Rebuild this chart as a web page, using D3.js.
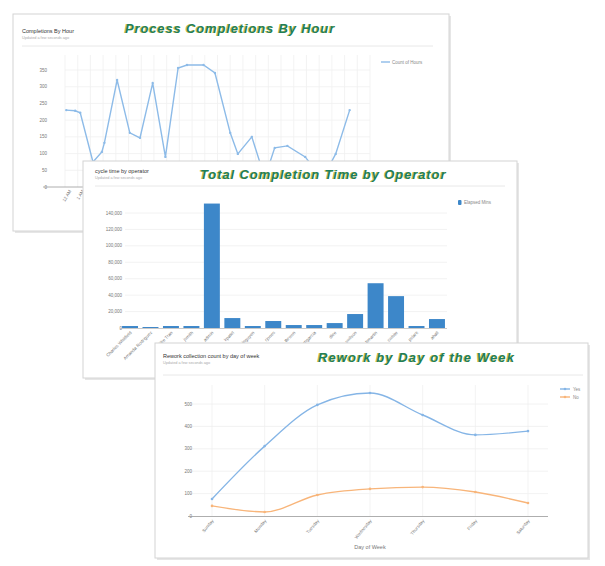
<!DOCTYPE html>
<html>
<head>
<meta charset="utf-8">
<script src="https://cdn.jsdelivr.net/npm/d3@7"></script>
<style>
  html, body { margin: 0; padding: 0; background: #ffffff; }
  svg { display: block; font-family: "Liberation Sans", Arial, sans-serif; }
</style>
</head>
<body>
<svg id="chart" width="605" height="566"></svg>
<script>
// ---------- Data ----------
// Panel 1: Process Completions By Hour (hour of day, count)
const hourX = [0.1, 0.8, 1.2, 2.2, 2.9, 3.1, 4.1, 5.1, 5.9, 6.9, 7.9, 8.9, 9.6, 10.9, 11.8, 13.0, 13.6, 14.7, 15.4, 15.8, 16.5, 17.5, 18.9, 19.4, 20.2, 21.3, 22.4];
const hourCounts = [230, 228, 222, 75, 105, 132, 320, 162, 147, 311, 90, 356, 365, 365, 341, 162, 99, 150, 66, 36, 117, 123, 90, 66, 21, 99, 230];
const hourTicks = [0, 50, 100, 150, 200, 250, 300, 350];
const hourLabels = ["12 AM","1 AM","2 AM","3 AM","4 AM","5 AM","6 AM","7 AM","8 AM","9 AM","10 AM","11 AM","12 PM","1 PM","2 PM","3 PM","4 PM","5 PM","6 PM","7 PM","8 PM","9 PM","10 PM","11 PM"];

// Panel 2: Total Completion Time by Operator
const operators = ["Charles Whitfield", "Amanda Rodriguez", "Mike Tran", "jsmith", "admin", "kpatel", "lnguyen", "rjones", "tbrown", "mgarcia", "dlee", "swilson", "bmartin", "cwhite", "pclark", "ahall"];
const operatorTimes = [2400, 1200, 2400, 2400, 151500, 12100, 2400, 8500, 3600, 3600, 6000, 17000, 54500, 38800, 2400, 10900];
const operatorTicks = [0, 20000, 40000, 60000, 80000, 100000, 120000, 140000];

// Panel 3: Rework by Day of the Week
const days = ["Sunday", "Monday", "Tuesday", "Wednesday", "Thursday", "Friday", "Saturday"];
const reworkYes = [76, 312, 496, 549, 451, 362, 379];
const reworkNo = [45, 18, 94, 121, 129, 107, 58];
const reworkTicks = [0, 100, 200, 300, 400, 500];
const seriesNames = ["Yes", "No"];

// ---------- Helpers ----------
const svg = d3.select("#chart");
const fmt = d3.format(",");

function panel(x0, y0, x1, y1) {
  const g = svg.append("g");
  g.append("rect").attr("x", x0 + 2).attr("y", y0 + 2).attr("width", x1 - x0).attr("height", y1 - y0)
    .attr("fill", "#e6e6e6");
  g.append("rect").attr("x", x0).attr("y", y0).attr("width", x1 - x0).attr("height", y1 - y0)
    .attr("fill", "#ffffff").attr("stroke", "#d4d4d4").attr("stroke-width", 1);
  return g;
}

function bigTitle(g, text, x, y, spacing) {
  const t = g.append("g").attr("font-size", 13).attr("font-weight", "bold").attr("font-style", "italic")
    .attr("letter-spacing", spacing);
  t.append("text").attr("x", x - 0.9).attr("y", y).attr("fill", "#c9bd45").text(text);
  t.append("text").attr("x", x).attr("y", y).attr("fill", "#1f7f5a").text(text);
}

function smallTitle(g, title, sub, x, y, sepX0, sepX1, sepY) {
  g.append("text").attr("x", x).attr("y", y).attr("font-size", 5.5).attr("fill", "#333").text(title);
  g.append("text").attr("x", x).attr("y", y + 6).attr("font-size", 3.8).attr("fill", "#aaa").text(sub);
  g.append("line").attr("x1", sepX0).attr("x2", sepX1).attr("y1", sepY).attr("y2", sepY)
    .attr("stroke", "#e8e8e8").attr("stroke-width", 1);
}

// ---------- Panel 1 ----------
{
  const g = panel(13, 14, 449, 231);
  smallTitle(g, "Completions By Hour", "Updated a few seconds ago", 22, 33, 22, 433, 46);
  bigTitle(g, "Process  Completions  By  Hour", 125, 33, 0.85);

  const x = d3.scaleLinear().domain([0, 24]).range([65, 370]);
  const y = d3.scaleLinear().domain([0, 350]).range([187, 70]);

  g.append("g").selectAll("line").data(d3.range(0, 25)).join("line")
    .attr("x1", d => x(d)).attr("x2", d => x(d)).attr("y1", 55).attr("y2", 187)
    .attr("stroke", "#f0f0f0").attr("stroke-width", 0.8);
  g.append("g").selectAll("line").data(hourTicks.slice(1)).join("line")
    .attr("x1", 65).attr("x2", 370).attr("y1", d => y(d)).attr("y2", d => y(d))
    .attr("stroke", "#f0f0f0").attr("stroke-width", 0.8);

  g.append("g").selectAll("text").data(hourTicks).join("text")
    .attr("x", 47).attr("y", d => y(d) + 1.5).attr("text-anchor", "end")
    .attr("font-size", 4.5).attr("fill", "#777").text(d => fmt(d));

  g.append("line").attr("x1", 43).attr("x2", 370).attr("y1", 187).attr("y2", 187)
    .attr("stroke", "#999").attr("stroke-width", 0.8);

  g.append("g").selectAll("text").data(hourLabels).join("text")
    .attr("transform", (d, i) => `translate(${x(i + 0.5)},191) rotate(-60)`)
    .attr("text-anchor", "end").attr("font-size", 4.5).attr("fill", "#777").text(d => d);

  const pts = hourX.map((h, i) => [h, hourCounts[i]]);
  g.append("path").datum(pts)
    .attr("d", d3.line().x(d => x(d[0])).y(d => y(d[1])))
    .attr("fill", "none").attr("stroke", "#8dbbe8").attr("stroke-width", 1.4);
  g.append("g").selectAll("circle").data(pts).join("circle")
    .attr("cx", d => x(d[0])).attr("cy", d => y(d[1])).attr("r", 1.2).attr("fill", "#8dbbe8");

  g.append("line").attr("x1", 381).attr("x2", 390).attr("y1", 62).attr("y2", 62)
    .attr("stroke", "#8dbbe8").attr("stroke-width", 1.4);
  g.append("text").attr("x", 392).attr("y", 63.5).attr("font-size", 4.5).attr("fill", "#888").text("Count of Hours");
}

// ---------- Panel 2 ----------
{
  const g = panel(83, 161, 517, 378);
  smallTitle(g, "cycle time by operator", "Updated a few seconds ago", 95, 173, 95, 505, 186);
  bigTitle(g, "Total Completion  Time by Operator", 200, 179, 0.9);

  const x = d3.scaleBand().domain(operators).range([120, 447]).paddingInner(0.22).paddingOuter(0.1);
  const y = d3.scaleLinear().domain([0, 140000]).range([328, 213]);

  g.append("g").selectAll("line").data(operatorTicks.slice(1)).join("line")
    .attr("x1", 125).attr("x2", 447).attr("y1", d => y(d)).attr("y2", d => y(d))
    .attr("stroke", "#efefef").attr("stroke-width", 0.8);

  g.append("g").selectAll("text").data(operatorTicks).join("text")
    .attr("x", 122).attr("y", d => y(d) + 1.5).attr("text-anchor", "end")
    .attr("font-size", 4.5).attr("fill", "#777").text(d => fmt(d));

  g.append("g").selectAll("rect").data(operators).join("rect")
    .attr("x", d => x(d)).attr("width", x.bandwidth())
    .attr("y", (d, i) => y(operatorTimes[i])).attr("height", (d, i) => 328 - y(operatorTimes[i]))
    .attr("fill", "#3d87c9");

  g.append("line").attr("x1", 120).attr("x2", 447).attr("y1", 328.5).attr("y2", 328.5)
    .attr("stroke", "#bbb").attr("stroke-width", 0.8);

  g.append("g").selectAll("text").data(operators).join("text")
    .attr("transform", d => `translate(${x(d) + x.bandwidth() / 2 + 2},333) rotate(-45)`)
    .attr("text-anchor", "end").attr("font-size", 4.5).attr("fill", "#777").text(d => d);

  g.append("rect").attr("x", 458).attr("y", 200).attr("width", 3.5).attr("height", 5).attr("rx", 1)
    .attr("fill", "#3d87c9");
  g.append("text").attr("x", 464).attr("y", 204).attr("font-size", 4.5).attr("fill", "#888").text("Elapsed Mins");
}

// ---------- Panel 3 ----------
{
  const g = panel(155, 343, 588, 558);
  smallTitle(g, "Rework collection count by day of week", "Updated a few seconds ago", 163, 358, 163, 583, 375);
  bigTitle(g, "Rework  by Day  of  the  Week", 318, 362, 1.1);

  const x = d3.scalePoint().domain(days).range([212, 528]);
  const y = d3.scaleLinear().domain([0, 500]).range([516, 404]);

  g.append("g").selectAll("line").data(days).join("line")
    .attr("x1", d => x(d)).attr("x2", d => x(d)).attr("y1", 385).attr("y2", 516)
    .attr("stroke", "#f0f0f0").attr("stroke-width", 0.8);
  g.append("g").selectAll("line").data(reworkTicks.slice(1)).join("line")
    .attr("x1", 190).attr("x2", 548).attr("y1", d => y(d)).attr("y2", d => y(d))
    .attr("stroke", "#efefef").attr("stroke-width", 0.8);

  g.append("g").selectAll("text").data(reworkTicks).join("text")
    .attr("x", 192).attr("y", d => y(d) + 1.5).attr("text-anchor", "end")
    .attr("font-size", 4.5).attr("fill", "#777").text(d => d);

  g.append("line").attr("x1", 188).attr("x2", 548).attr("y1", 516.5).attr("y2", 516.5)
    .attr("stroke", "#999").attr("stroke-width", 0.8);

  g.append("g").selectAll("text").data(days).join("text")
    .attr("transform", d => `translate(${x(d) + 2},521) rotate(-50)`)
    .attr("text-anchor", "end").attr("font-size", 4.5).attr("fill", "#777").text(d => d);

  g.append("text").attr("x", 370).attr("y", 549).attr("text-anchor", "middle")
    .attr("font-size", 5.5).attr("fill", "#777").text("Day of Week");

  const colors = ["#85b5e6", "#f8b57a"];
  [reworkYes, reworkNo].forEach((vals, k) => {
    g.append("path").datum(vals)
      .attr("d", d3.line().x((d, i) => x(days[i])).y(d => y(d)).curve(d3.curveMonotoneX))
      .attr("fill", "none").attr("stroke", colors[k]).attr("stroke-width", 1.4);
    g.append("g").selectAll("circle").data(vals).join("circle")
      .attr("cx", (d, i) => x(days[i])).attr("cy", d => y(d)).attr("r", 1.3).attr("fill", colors[k]);
    const ly = 389 + k * 8;
    g.append("line").attr("x1", 560).attr("x2", 570).attr("y1", ly).attr("y2", ly)
      .attr("stroke", colors[k]).attr("stroke-width", 1.4);
    g.append("circle").attr("cx", 565).attr("cy", ly).attr("r", 1.3).attr("fill", colors[k]);
    g.append("text").attr("x", 573).attr("y", ly + 1.5).attr("font-size", 4.5).attr("fill", "#888").text(seriesNames[k]);
  });
}
</script>
</body>
</html>
